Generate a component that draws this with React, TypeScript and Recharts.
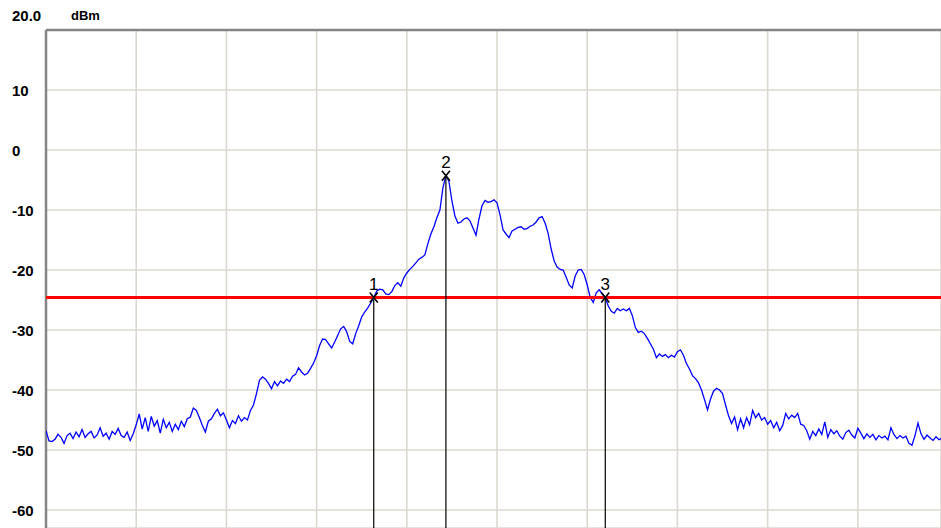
import React from 'react';
import { LineChart, Line, XAxis, YAxis, CartesianGrid, ReferenceLine, ReferenceDot } from 'recharts';

// Trace level (dBm) per sample; 30 samples per horizontal division
const levelDbm: number[] = [
  -46.8, -48.5, -48.6, -48.2, -47.4, -47.9, -48.9, -47.6, -47.2, -48.1,
  -47.0, -47.8, -46.6, -47.9, -47.3, -46.9, -48.0, -47.5, -46.3, -47.7,
  -47.2, -48.2, -46.9, -47.4, -46.4, -47.6, -47.9, -47.0, -48.4, -47.3,
  -45.8, -44.0, -46.5, -44.6, -46.9, -44.4, -46.0, -45.1, -47.2, -44.9,
  -46.3, -45.4, -46.9, -45.7, -46.6, -45.2, -46.1, -44.8, -44.5, -43.0,
  -43.4, -44.6, -45.9, -47.0, -45.2, -44.8, -43.9, -43.2, -44.3, -43.8,
  -45.0, -46.3, -45.1, -45.6, -44.3, -45.2, -44.6, -45.0, -43.4, -42.5,
  -40.6, -38.4, -37.8, -38.2, -38.9, -39.8, -38.6, -39.3, -38.5, -38.9,
  -38.2, -38.6, -37.7, -37.4, -36.3, -37.0, -37.5, -37.2, -36.4, -35.5,
  -34.3, -32.6, -31.5, -31.6, -32.3, -33.0, -32.0, -30.9, -29.8, -29.4,
  -30.3, -31.9, -32.3, -30.6, -29.3, -27.8, -27.0, -26.3, -25.5, -24.6,
  -23.5, -23.2, -23.3, -24.0, -24.1, -23.6, -22.6, -22.1, -22.7, -21.3,
  -20.5, -19.9, -19.4, -18.8, -18.2, -17.9, -17.5, -15.6, -14.0, -12.8,
  -11.3, -10.0, -6.3, -4.3, -5.2, -8.5, -11.0, -12.2, -12.0, -11.5,
  -11.3, -11.8, -13.0, -14.2, -11.5, -9.3, -8.4, -8.7, -8.6, -8.3,
  -8.8, -10.8, -13.3, -14.0, -14.6, -13.5, -13.2, -12.9, -12.8, -13.2,
  -13.1, -12.7, -12.5, -12.0, -11.3, -11.1, -12.2, -13.9, -16.5, -18.5,
  -19.5, -19.9, -20.0, -21.2, -22.5, -23.0, -21.0, -20.0, -19.9, -20.8,
  -22.5, -24.6, -25.4, -23.8, -23.3, -24.0, -24.6, -26.0, -26.9, -27.2,
  -26.4, -26.8, -26.5, -26.8, -26.4, -27.6, -29.6, -30.4, -30.2, -30.6,
  -31.4, -32.3, -33.2, -34.6, -34.0, -34.4, -34.1, -34.6, -34.2, -34.5,
  -33.6, -33.3, -34.2, -35.6, -36.5, -37.6, -38.1, -38.8, -40.0, -41.6,
  -43.3, -41.5, -40.2, -39.7, -40.0, -40.6, -42.5, -44.3, -45.6, -44.5,
  -46.6, -44.8, -46.3, -44.6, -45.8, -43.4, -44.6, -43.9, -45.0, -44.6,
  -45.7, -45.1, -46.3, -45.4, -46.8, -45.9, -43.9, -44.8, -44.2, -44.6,
  -43.9, -45.7, -45.9, -46.8, -48.2, -46.9, -47.6, -46.5, -47.4, -45.3,
  -47.9, -46.6, -47.3, -46.8, -47.7, -48.2, -47.1, -46.7, -47.5, -48.0,
  -46.4, -47.2, -48.1, -47.3, -47.9, -47.4, -48.3, -47.6, -48.0, -47.7,
  -48.3, -46.3, -47.4, -48.1, -47.6, -48.0, -47.7, -48.9, -49.2, -47.6,
  -45.5, -47.3, -48.2, -47.5, -48.0, -48.4, -47.8, -48.3, -48.0,
];

const yTicks = [20, 10, 0, -10, -20, -30, -40, -50, -60];
const xGridTicks = [30, 60, 90, 120, 150, 180, 210, 240, 270];
const thresholdDbm = -24.6;
const markerIndex = [109, 133, 186];
const markerLabel = ['1', '2', '3'];

const data = levelDbm.map((level, i) => ({ sample: i, level }));

const FONT = '"Liberation Sans", Arial, sans-serif';

const YTick = (props: any) => {
  const { y, payload } = props;
  if (payload.value === 20) {
    return (
      <g>
        <text x={12} y={y - 15} dominantBaseline="central" fontFamily={FONT} fontWeight="bold" fontSize={15} fill="#000">20.0</text>
        <text x={71} y={y - 15} dominantBaseline="central" fontFamily={FONT} fontWeight="bold" fontSize={13} fill="#000">dBm</text>
      </g>
    );
  }
  return (
    <text x={12} y={y} dominantBaseline="central" fontFamily={FONT} fontWeight="bold" fontSize={15} fill="#000">
      {payload.value}
    </text>
  );
};

const makeMarker = (label: string) => (props: any) => {
  const { cx, cy } = props;
  return (
    <g>
      <path d={`M${cx - 4},${cy - 5} L${cx + 4},${cy + 5} M${cx + 4},${cy - 5} L${cx - 4},${cy + 5}`} stroke="#000" strokeWidth={1.6} fill="none" />
      <text x={cx} y={cy - 8} textAnchor="middle" fontFamily={FONT} fontSize={17} fill="#000">{label}</text>
    </g>
  );
};

export default function App() {
  return (
    <div style={{ position: 'absolute', left: 0, top: 0, width: 941, height: 528, background: '#fff' }}>
      <LineChart width={941} height={528} data={data} margin={{ top: 30, right: 0, bottom: 0, left: 0 }}>
        <CartesianGrid stroke="#dcd8d0" strokeWidth={1.6} />
        <XAxis dataKey="sample" type="number" domain={[0, 297.65]} ticks={xGridTicks} allowDataOverflow hide />
        <YAxis type="number" domain={[-63, 20]} ticks={yTicks} interval={0} width={46} axisLine={false} tickLine={false} tick={<YTick />} allowDataOverflow />
        <ReferenceLine y={20} stroke="#858585" strokeWidth={2.5} />
        <ReferenceLine x={0} stroke="#858585" strokeWidth={2.5} />
        <Line dataKey="level" stroke="#0000ff" strokeWidth={1.3} dot={false} isAnimationActive={false} type="linear" />
        <ReferenceLine y={thresholdDbm} stroke="#ff0000" strokeWidth={3} />
        {markerIndex.map((idx) => (
          <ReferenceLine key={`v${idx}`} segment={[{ x: idx, y: levelDbm[idx] }, { x: idx, y: -63 }]} stroke="#000" strokeWidth={1.2} />
        ))}
        {markerIndex.map((idx, k) => (
          <ReferenceDot key={`m${idx}`} x={idx} y={levelDbm[idx]} r={4} shape={makeMarker(markerLabel[k])} />
        ))}
      </LineChart>
    </div>
  );
}
